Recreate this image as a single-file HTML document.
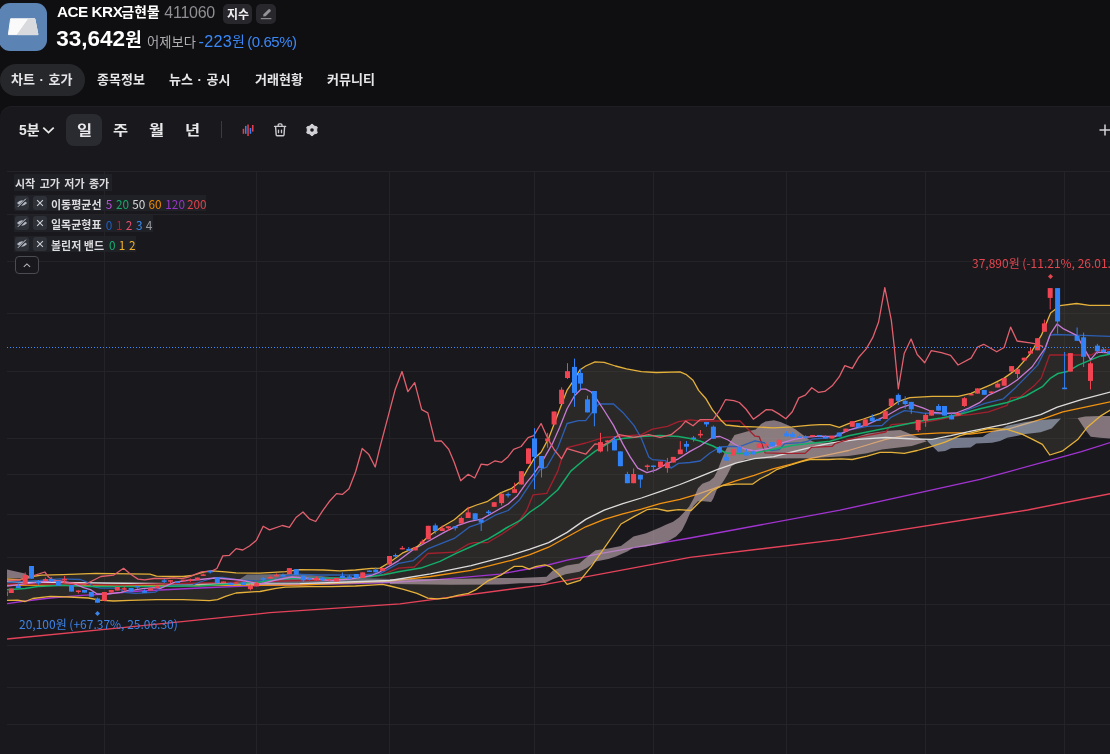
<!DOCTYPE html>
<html><head><meta charset="utf-8">
<style>
*{margin:0;padding:0;box-sizing:border-box}
html,body{width:1110px;height:754px;overflow:hidden;background:#0f0f11;color:#fff;font-family:"Liberation Sans","Noto Sans CJK KR",sans-serif}
.abs{position:absolute}
#logo{left:-1px;top:3px;width:48px;height:48px;border-radius:11px;background:#5b84b5;overflow:hidden}
.hd{white-space:nowrap;line-height:1}
.kr{font-family:"Noto Sans CJK KR",sans-serif}
.badge{top:4px;height:20px;border-radius:5px;background:#28282c}
#price{left:57px;top:26px;font-size:20px;font-weight:700;white-space:nowrap;letter-spacing:-0.3px}
#cmp{left:148px;top:32px;font-size:13px;color:#a8a8ae;white-space:nowrap}
#chg{left:199px;top:31px;font-size:14px;color:#3a86f5;white-space:nowrap}
.tab{top:64px;height:32px;line-height:32px;font-size:13px;font-weight:700;color:#e6e6e9;white-space:nowrap}
#panel{left:0;top:106px;width:1120px;height:660px;background:#19181d;border-radius:12px 0 0 0;box-shadow:inset 0 1px 0 #1f1e23}
.tb{top:114px;width:36px;height:32px;line-height:32px;text-align:center;font-size:14px;font-weight:700;color:#e8e8ea;border-radius:8px}
.tb span{display:inline-block;transform:scaleX(1.17)}
.lg{font-family:"Noto Sans CJK KR",sans-serif;font-size:11px;font-weight:700;color:#dcdcdf;white-space:nowrap}
.lgbox{background:rgba(34,35,40,0.85)}
.ib{width:13px;height:13px;border-radius:3px;background:#2e2f36}
.num{font-weight:400;font-size:11.8px}
.lbl{font-family:"Noto Sans CJK KR",sans-serif;font-size:12px;white-space:nowrap;line-height:16px}
</style></head><body>
<!-- header -->
<div id="logo" class="abs">
<svg width="48" height="48" viewBox="0 0 48 48"><polygon points="11.6,15.8 35.8,15.8 38.9,31.6 9.4,31.6" fill="#fafafa" stroke="#fafafa" stroke-width="1" stroke-linejoin="round"/><polygon points="29.6,15.8 35.8,15.8 38.9,31.6 18.3,31.6" fill="#d9dade" stroke="#d9dade" stroke-width="1" stroke-linejoin="round"/></svg>
</div>
<div class="abs hd" style="left:57px;top:4px;font-size:15.3px;font-weight:700;letter-spacing:-0.5px">ACE KRX</div>
<div class="abs hd kr" style="left:121.5px;top:5px;font-size:13.8px;font-weight:700">금현물</div>
<div class="abs hd" style="left:164.3px;top:5px;font-size:16px;letter-spacing:-0.25px;color:#8e8e93">411060</div>
<div class="abs badge" style="left:223px;width:29px"></div>
<div class="abs hd kr" style="left:227px;top:7.5px;font-size:12px;font-weight:700;color:#f0f0f2">지수</div>
<div class="abs badge" style="left:256px;width:20px"></div>
<svg class="abs" style="left:256px;top:4px" width="20" height="20" viewBox="0 0 20 20"><path d="M7.2 12.6 L7.5 10.2 L12.3 5.4 Q13.2 4.6 14.1 5.4 L14.4 5.7 Q15.2 6.6 14.4 7.5 L9.6 12.3 Z" fill="#939398"/><rect x="4.8" y="14.1" width="10.6" height="1.1" fill="#939398"/></svg>
<div class="abs hd" style="left:56.3px;top:27.7px;font-size:22.5px;font-weight:700">33,642</div>
<div class="abs hd kr" style="left:125.3px;top:28.5px;font-size:18px;font-weight:700">원</div>
<div class="abs hd kr" style="left:147px;top:34.5px;font-size:13.3px;color:#aeaeb3">어제보다</div>
<div class="abs hd" style="left:198.5px;top:33px;font-size:16.2px;letter-spacing:0.3px;color:#3a88f7">-223</div>
<div class="abs hd kr" style="left:232.2px;top:34px;font-size:13.6px;color:#3a88f7">원</div>
<div class="abs hd" style="left:247.3px;top:33.5px;font-size:15px;letter-spacing:-0.45px;color:#3a88f7">(0.65%)</div>
<!-- tabs -->
<div class="abs" style="left:0;top:64px;width:85px;height:32px;border-radius:16px;background:#26272b"></div>
<div class="abs tab" style="left:11px;word-spacing:1px">차트 · 호가</div>
<div class="abs tab" style="left:97px">종목정보</div>
<div class="abs tab" style="left:169px;word-spacing:1px">뉴스 · 공시</div>
<div class="abs tab" style="left:255px">거래현황</div>
<div class="abs tab" style="left:327px">커뮤니티</div>
<!-- panel -->
<div id="panel" class="abs"></div>
<div class="abs" style="left:19px;top:114px;height:32px;line-height:32px;font-size:14px;font-weight:700;color:#e8e8ea">5분</div>
<svg class="abs" style="left:42px;top:125px" width="13" height="10" viewBox="0 0 13 10"><path d="M1.3 2.6 L6.5 7.6 L11.7 2.6" fill="none" stroke="#e8e8ea" stroke-width="1.8"/></svg>
<div class="abs tb" style="left:66px;background:#2a2b31"><span>일</span></div>
<div class="abs tb" style="left:102px"><span>주</span></div>
<div class="abs tb" style="left:138px"><span>월</span></div>
<div class="abs tb" style="left:174px"><span>년</span></div>
<div class="abs" style="left:221px;top:121px;width:1px;height:17px;background:#3a3a40"></div>
<svg class="abs" style="left:240px;top:122px" width="16" height="16" viewBox="0 0 16 16">
<rect x="2.7" y="6.8" width="1.5" height="5" fill="#e5404f"/>
<rect x="5" y="3.9" width="1.5" height="7.9" fill="#2f86f0"/>
<rect x="7.3" y="2.5" width="1.5" height="11.5" fill="#e5404f"/>
<rect x="9.7" y="6" width="1.5" height="5.8" fill="#2f86f0"/>
<rect x="12" y="3" width="1.5" height="6.6" fill="#e5404f"/>
</svg>
<svg class="abs" style="left:272px;top:122px" width="16" height="16" viewBox="0 0 16 16" fill="none" stroke="#cbcbcf" stroke-linecap="round" stroke-linejoin="round">
<path d="M6.2 4.2 V3 Q6.2 1.9 7.3 1.9 H8.9 Q10 1.9 10 3 V4.2" stroke-width="1.3"/>
<path d="M2.6 4.4 H13.6" stroke-width="1.4"/>
<path d="M3.6 4.8 L4.2 13 Q4.3 13.7 5 13.7 H11.2 Q11.9 13.7 12 13 L12.6 4.8" stroke-width="1.4"/>
<path d="M6.5 8.1 V10.7 M9.5 8.1 V10.7" stroke-width="1.3"/>
</svg>
<svg class="abs" style="left:304px;top:122px" width="16" height="16" viewBox="0 0 16 16">
<polygon points="8.00,2.00 10.30,4.02 13.20,5.00 12.60,8.00 13.20,11.00 10.30,11.98 8.00,14.00 5.70,11.98 2.80,11.00 3.40,8.00 2.80,5.00 5.70,4.02" fill="#d2d2d6" stroke="#d2d2d6" stroke-width="1" stroke-linejoin="round"/>
<circle cx="8" cy="8" r="1.8" fill="#19181d"/>
</svg>
<svg class="abs" style="left:1098px;top:123px" width="14" height="14" viewBox="0 0 14 14"><path d="M1.5 7 H12.5 M7 1.5 V12.5" stroke="#d4d4d8" stroke-width="1.5"/></svg>
<!-- chart -->
<svg class="abs" style="left:0;top:0" width="1110" height="754" viewBox="0 0 1110 754" id="chart">
<rect x="104" y="171" width="1" height="583" fill="#232328"/>
<rect x="256" y="171" width="1" height="583" fill="#232328"/>
<rect x="389" y="171" width="1" height="583" fill="#232328"/>
<rect x="534" y="171" width="1" height="583" fill="#232328"/>
<rect x="653" y="171" width="1" height="583" fill="#232328"/>
<rect x="786" y="171" width="1" height="583" fill="#232328"/>
<rect x="925" y="171" width="1" height="583" fill="#232328"/>
<rect x="1064" y="171" width="1" height="583" fill="#232328"/>
<rect x="7" y="171" width="1103" height="1" fill="#232328"/>
<rect x="7" y="214" width="1103" height="1" fill="#232328"/>
<rect x="7" y="261" width="1103" height="1" fill="#232328"/>
<rect x="7" y="313" width="1103" height="1" fill="#232328"/>
<rect x="7" y="371" width="1103" height="1" fill="#232328"/>
<rect x="7" y="438" width="1103" height="1" fill="#232328"/>
<rect x="7" y="474" width="1103" height="1" fill="#232328"/>
<rect x="7" y="514" width="1103" height="1" fill="#232328"/>
<rect x="7" y="557" width="1103" height="1" fill="#232328"/>
<rect x="7" y="604" width="1103" height="1" fill="#232328"/>
<rect x="7" y="645" width="1103" height="1" fill="#232328"/>
<rect x="7" y="687" width="1103" height="1" fill="#232328"/>
<rect x="7" y="724" width="1103" height="1" fill="#232328"/>
<defs><clipPath id="ca"><rect x="7" y="172" width="1103" height="582"/></clipPath></defs>
<g clip-path="url(#ca)">
<polygon points="7.0,579.0 20.0,579.6 29.0,577.0 41.6,575.2 63.0,574.6 95.8,573.3 130.0,573.8 149.9,574.2 156.5,576.1 169.8,576.5 183.0,576.5 192.3,575.5 204.3,571.8 212.2,570.8 225.5,571.8 236.0,572.9 260.0,573.2 285.5,571.6 299.8,569.7 323.7,570.0 339.6,570.8 355.5,570.0 371.4,568.4 380.0,568.1 389.3,562.5 402.3,553.2 417.1,546.7 428.3,536.5 441.3,527.2 454.2,519.8 467.2,508.7 476.5,505.0 487.7,501.3 500.6,492.9 511.8,488.3 521.1,480.8 528.5,467.8 534.1,458.6 541.1,452.3 548.6,438.4 557.8,414.2 567.1,390.1 572.7,381.8 580.1,369.7 585.7,366.0 595.0,361.9 604.2,362.3 615.4,366.0 626.5,368.8 641.4,371.6 656.2,372.5 680.0,371.9 686.5,374.7 693.0,380.2 698.6,390.4 706.0,398.8 712.5,409.9 720.8,420.0 726.0,425.0 740.0,426.5 755.0,426.9 773.6,427.8 792.1,426.9 810.7,425.1 820.0,424.6 830.0,424.6 839.3,427.3 848.6,423.6 863.4,419.0 880.1,413.4 889.4,407.8 898.7,401.3 909.8,397.6 932.1,396.3 958.1,396.3 971.1,393.4 980.0,389.3 991.1,384.6 1004.1,378.1 1017.1,368.9 1030.1,354.0 1041.3,335.4 1050.6,313.1 1059.9,305.7 1076.6,303.5 1089.6,305.3 1112.0,305.3 1112.0,409.0 1100.0,416.4 1087.0,427.6 1077.7,439.6 1062.8,450.8 1049.8,455.0 1042.4,444.3 1033.1,439.6 1022.0,434.1 1007.1,429.4 988.6,428.5 970.0,433.1 960.0,435.7 945.1,442.2 930.2,446.8 917.3,450.5 904.3,453.3 891.3,452.4 880.1,452.4 867.1,456.1 852.3,459.5 841.1,458.9 828.5,459.5 809.9,459.5 800.7,461.9 787.7,466.0 776.5,469.7 769.1,474.3 759.8,479.0 752.4,484.2 735.7,484.2 722.7,485.5 711.6,491.0 700.4,501.3 691.1,510.5 678.5,509.7 667.4,511.0 656.2,508.6 646.9,509.7 634.0,516.6 621.0,524.0 604.2,548.2 591.3,566.7 580.1,580.3 567.1,584.4 557.8,573.2 550.4,566.7 544.8,564.9 535.6,566.7 529.2,569.1 522.4,566.4 514.3,566.4 508.9,569.7 500.8,575.1 487.3,581.2 476.5,589.3 468.4,593.4 457.6,595.4 446.8,598.1 437.3,598.8 427.8,598.1 417.0,593.4 403.5,589.3 390.0,586.0 382.5,584.4 371.4,585.1 355.5,586.0 331.6,586.7 307.7,586.7 285.5,587.2 276.0,588.3 260.0,591.5 256.0,591.7 236.0,593.0 225.5,596.4 217.5,599.7 209.6,600.7 183.0,599.7 156.5,599.7 130.0,600.3 113.5,601.0 99.6,600.2 88.3,598.0 69.4,597.0 50.4,596.4 32.8,598.5 25.2,601.5 17.6,600.2 7.0,600.4" fill="#625a47" fill-opacity="0.25"/>
<polyline points="7.0,639.0 130.0,626.9 270.0,612.7 400.0,603.8 540.0,585.3 690.0,557.4 840.0,539.3 1027.6,510.0 1112.0,493.3" fill="none" stroke="#e6435a" stroke-width="1.35" stroke-linejoin="round" />
<polyline points="7.0,603.6 25.2,601.0 50.0,598.0 82.0,595.4 100.9,594.4 140.0,591.0 200.0,588.0 270.0,585.0 330.0,584.0 390.0,582.5 440.0,579.3 500.0,574.1 525.1,569.5 540.0,567.0 567.1,560.2 604.2,552.8 641.4,546.3 690.0,538.0 840.0,510.2 980.0,479.3 1007.1,472.1 1044.3,461.9 1081.4,451.7 1112.0,442.0" fill="none" stroke="#a134d0" stroke-width="1.3" stroke-linejoin="round" />
<polyline points="7.0,585.0 100.0,585.5 200.0,585.5 300.0,585.0 390.0,581.2 430.5,576.5 471.1,570.4 511.6,560.3 530.0,554.7 548.6,547.2 567.1,537.0 585.7,526.8 604.2,519.4 622.8,513.8 641.4,509.2 659.9,503.6 680.0,499.4 698.6,493.8 717.1,487.3 735.7,480.8 754.2,475.3 772.8,468.8 791.4,464.1 809.9,458.6 835.0,453.4 848.6,450.5 867.1,445.0 885.7,439.4 904.3,435.7 922.8,433.8 941.4,432.9 960.0,432.9 970.0,434.1 1007.1,429.4 1044.3,418.3 1062.8,411.8 1112.0,401.4" fill="none" stroke="#f39312" stroke-width="1.3" stroke-linejoin="round" />
<polygon points="7.0,569.4 23.8,573.3 30.3,576.6 28.8,578.7 7.0,578.0" fill="#c8b2b9" fill-opacity="0.6"/>
<polygon points="236.0,582.5 240.0,579.0 247.0,574.6 270.0,574.2 300.0,573.8 330.0,577.0 390.0,579.0 390.0,583.0 330.0,584.0 300.0,583.5 260.0,583.0 236.0,582.5" fill="#b0bdd6" fill-opacity="0.45"/>
<polygon points="390.0,579.0 450.0,579.0 500.0,578.0 520.0,578.0 546.5,576.8 552.8,570.5 566.7,565.4 579.3,563.5 590.6,554.1 595.7,550.3 608.3,548.4 620.9,545.9 633.5,536.4 646.1,533.2 660.0,527.6 665.8,524.7 673.1,521.8 679.0,517.4 684.8,511.5 689.2,506.4 693.6,498.4 698.0,488.2 702.3,483.8 709.6,480.9 714.0,477.2 717.7,469.9 721.3,460.4 725.0,451.7 728.6,444.4 731.5,440.0 734.5,435.0 747.0,431.6 755.7,429.5 761.1,424.1 765.4,421.4 774.0,420.3 780.5,421.9 789.2,425.7 795.7,429.5 800.0,432.7 804.3,436.0 808.6,439.2 813.0,441.4 817.3,442.4 830.0,443.0 848.6,439.4 867.1,433.8 885.7,431.1 900.5,430.1 908.0,432.9 922.8,439.4 927.0,441.3 927.0,441.3 911.7,445.9 896.8,447.8 882.0,449.6 867.1,453.3 848.6,456.1 830.0,457.0 809.9,458.3 772.8,458.4 754.2,458.6 745.0,459.5 740.0,461.9 735.9,463.4 731.5,466.3 727.2,475.0 722.8,482.3 716.9,489.6 713.3,498.4 711.1,502.0 703.8,501.3 698.0,501.3 693.6,505.7 690.7,511.5 686.3,521.8 681.9,530.5 676.1,536.4 668.8,540.7 660.0,543.5 646.1,546.5 633.5,547.8 627.2,551.5 615.9,556.6 608.3,559.1 595.7,561.6 586.8,568.0 579.3,571.7 565.4,574.3 552.8,579.3 545.2,583.1 520.0,583.3 500.0,584.5 450.0,584.8 390.0,584.0" fill="#c8b2b9" fill-opacity="0.6"/>
<polygon points="927.0,440.3 934.4,439.2 948.8,438.1 970.5,437.4 982.7,437.0 986.3,434.5 992.1,431.6 1000.0,429.5 1007.1,425.7 1025.7,422.0 1044.3,419.8 1061.0,418.6 1061.0,418.6 1051.7,428.5 1040.6,432.2 1025.7,434.1 1016.4,435.9 1007.1,437.8 1000.0,441.0 992.1,442.8 976.2,443.5 970.5,447.5 951.0,448.2 945.2,451.1 938.0,451.8 927.9,441.7" fill="#b0bdd6" fill-opacity="0.6"/>
<polygon points="1062.8,418.3 1077.7,417.9 1085.1,416.4 1100.0,416.0 1112.0,416.0 1112.0,438.7 1100.0,437.8 1090.7,436.8 1085.1,429.4 1077.7,418.3" fill="#c8b2b9" fill-opacity="0.6"/>
<polyline points="7.0,582.0 100.0,583.0 200.0,584.0 300.0,583.6 390.0,580.5 430.5,573.8 471.1,565.7 511.6,554.9 530.0,549.1 548.6,542.6 567.1,532.4 585.7,519.4 604.2,510.1 622.8,503.6 641.4,498.0 659.9,491.6 680.0,484.5 698.6,477.1 717.1,469.7 735.7,463.2 754.2,458.6 773.6,456.6 792.1,452.0 810.7,447.3 830.0,443.1 857.8,439.4 885.7,437.5 913.5,439.0 932.1,439.4 950.7,435.7 970.0,431.3 1007.1,423.8 1040.6,414.6 1057.3,407.1 1081.4,399.7 1112.0,391.6" fill="none" stroke="#dcdcdc" stroke-width="1.3" stroke-linejoin="round" />
<polyline points="7.0,584.0 60.0,584.0 120.0,585.0 200.0,583.0 260.0,581.5 330.0,580.0 380.0,575.5 398.6,568.1 414.3,567.0 427.8,553.5 454.9,552.2 468.4,544.1 473.8,542.7 487.3,542.7 502.5,533.7 517.4,523.5 526.6,510.5 533.1,494.8 546.7,493.4 557.8,471.1 561.6,458.8 567.1,447.7 585.7,443.0 604.2,437.4 619.1,436.5 641.4,434.7 652.5,429.1 667.4,426.3 678.5,421.7 690.0,419.8 700.0,421.0 712.0,421.0 725.0,421.0 740.0,421.0 755.0,436.2 759.2,436.7 765.2,452.9 782.8,453.4 805.1,453.4 811.6,447.3 832.0,446.4 835.0,443.6 848.6,439.4 867.1,435.7 885.7,432.0 891.3,424.6 904.3,423.6 922.8,422.7 941.4,419.0 960.0,415.3 970.0,414.6 988.6,411.8 1007.1,405.3 1010.8,397.9 1020.1,396.9 1035.0,384.9 1041.3,378.1 1049.6,355.0 1091.4,355.0 1098.9,350.3 1112.0,349.4" fill="none" stroke="#a3202e" stroke-width="1.3" stroke-linejoin="round" />
<polyline points="7.0,582.5 40.0,580.5 60.0,578.8 80.3,579.5 87.0,582.2 90.4,584.5 93.8,586.9 100.5,588.2 114.0,588.2 120.8,589.6 124.2,592.3 135.0,593.3 145.8,592.8 155.2,592.2 158.4,590.3 161.5,587.1 167.8,585.9 180.4,585.2 193.0,584.9 200.0,582.0 213.5,578.0 222.5,577.5 231.5,578.9 240.5,580.2 258.6,581.1 267.6,580.2 276.6,579.3 285.6,575.7 300.0,574.4 320.0,575.0 360.0,575.0 380.0,573.6 398.6,563.4 413.4,560.6 428.3,548.6 454.2,538.4 469.1,527.2 482.1,522.6 495.1,515.2 508.1,510.5 519.2,500.3 528.5,486.4 540.0,469.7 546.7,467.1 557.8,447.7 567.1,423.5 578.3,420.7 585.7,420.7 598.7,404.0 613.5,404.0 622.8,412.4 633.9,425.4 641.4,438.4 648.8,456.9 652.5,459.7 665.5,460.6 671.1,468.1 678.5,463.4 690.0,462.5 700.0,461.0 710.0,453.0 720.0,447.0 728.0,446.5 740.0,446.5 755.0,440.8 764.3,442.7 770.8,450.6 779.1,449.7 784.7,443.6 801.4,442.7 807.0,441.3 812.5,439.0 830.0,437.5 848.6,430.1 867.1,426.4 882.0,425.5 891.3,417.1 904.3,410.6 913.5,411.6 922.8,413.0 941.4,413.8 960.0,413.4 970.0,409.0 984.9,403.4 1003.4,398.8 1014.6,388.6 1025.7,377.4 1037.6,365.1 1045.0,350.3 1049.6,335.4 1054.3,334.5 1082.1,335.4 1112.0,336.4" fill="none" stroke="#2d5fb4" stroke-width="1.3" stroke-linejoin="round" />
<polyline points="7.0,589.7 25.0,588.5 37.8,586.6 63.0,585.3 88.0,586.6 140.0,586.6 200.0,586.0 260.0,582.0 276.0,579.6 291.8,578.3 355.5,578.0 371.4,576.4 384.0,574.8 398.6,571.8 420.8,568.1 440.0,561.4 456.0,553.4 472.0,546.3 488.0,539.1 500.0,532.0 506.2,528.0 521.1,519.8 530.0,512.0 541.1,504.5 557.8,489.7 570.8,471.1 583.8,460.0 595.0,451.4 613.5,440.2 622.8,438.4 641.4,436.5 659.9,435.6 678.5,436.5 690.0,438.4 700.0,441.0 713.0,446.0 726.0,453.0 740.0,453.5 755.0,452.9 773.6,449.2 792.1,445.5 810.7,443.2 830.0,441.3 848.6,435.7 867.1,432.0 885.7,428.3 904.3,424.6 922.8,420.8 941.4,418.1 960.0,414.3 980.0,408.8 1007.1,402.5 1025.7,396.0 1042.4,386.7 1050.6,378.1 1058.0,373.5 1067.3,371.6 1078.4,365.1 1091.4,359.6 1100.7,355.9 1112.0,353.8" fill="none" stroke="#14ad6a" stroke-width="1.5" stroke-linejoin="round" />
<polyline points="7.0,586.0 29.0,583.4 40.0,582.0 60.0,580.8 73.5,583.5 83.6,587.6 90.4,589.6 97.2,594.0 107.3,594.0 120.8,592.3 127.6,590.6 135.0,589.9 142.6,588.7 155.2,587.7 160.3,588.4 174.1,582.4 186.7,580.5 200.0,579.5 215.0,578.0 240.0,580.0 260.0,584.0 276.0,580.0 291.8,577.0 310.0,578.5 330.0,580.5 350.0,579.0 371.4,575.5 380.0,571.8 398.6,560.6 413.4,549.5 428.3,541.2 445.0,531.9 458.0,525.4 469.1,521.7 482.1,518.9 495.1,511.5 508.1,504.0 517.4,495.7 526.6,482.7 534.1,473.4 541.1,463.4 552.3,443.9 559.7,427.2 567.1,408.7 574.5,395.7 581.0,389.2 585.7,389.2 591.3,392.0 596.8,399.4 604.2,410.5 613.5,425.4 622.8,443.9 630.2,456.9 637.7,468.1 646.9,472.7 656.2,469.9 667.4,463.4 678.5,458.8 690.0,451.4 700.0,446.0 713.0,437.0 720.0,436.5 728.0,440.0 735.0,444.5 745.0,449.0 755.0,451.0 768.9,448.3 782.8,442.7 794.0,439.4 807.0,437.1 820.0,436.2 835.0,436.7 848.6,430.1 867.1,424.6 885.7,416.2 900.5,407.8 911.7,404.1 922.8,407.8 934.0,412.5 945.1,413.4 956.2,413.0 969.2,407.8 980.0,402.3 988.6,395.1 1007.1,386.7 1017.1,380.0 1032.0,367.0 1045.0,348.4 1050.6,333.6 1057.1,323.9 1063.6,328.9 1076.6,335.4 1083.1,346.6 1090.5,359.6 1097.0,352.1 1112.0,353.1" fill="none" stroke="#c77ad6" stroke-width="1.3" stroke-linejoin="round" />
<polyline points="7.0,579.0 20.0,579.6 29.0,577.0 41.6,575.2 63.0,574.6 95.8,573.3 130.0,573.8 149.9,574.2 156.5,576.1 169.8,576.5 183.0,576.5 192.3,575.5 204.3,571.8 212.2,570.8 225.5,571.8 236.0,572.9 260.0,573.2 285.5,571.6 299.8,569.7 323.7,570.0 339.6,570.8 355.5,570.0 371.4,568.4 380.0,568.1 389.3,562.5 402.3,553.2 417.1,546.7 428.3,536.5 441.3,527.2 454.2,519.8 467.2,508.7 476.5,505.0 487.7,501.3 500.6,492.9 511.8,488.3 521.1,480.8 528.5,467.8 534.1,458.6 541.1,452.3 548.6,438.4 557.8,414.2 567.1,390.1 572.7,381.8 580.1,369.7 585.7,366.0 595.0,361.9 604.2,362.3 615.4,366.0 626.5,368.8 641.4,371.6 656.2,372.5 680.0,371.9 686.5,374.7 693.0,380.2 698.6,390.4 706.0,398.8 712.5,409.9 720.8,420.0 726.0,425.0 740.0,426.5 755.0,426.9 773.6,427.8 792.1,426.9 810.7,425.1 820.0,424.6 830.0,424.6 839.3,427.3 848.6,423.6 863.4,419.0 880.1,413.4 889.4,407.8 898.7,401.3 909.8,397.6 932.1,396.3 958.1,396.3 971.1,393.4 980.0,389.3 991.1,384.6 1004.1,378.1 1017.1,368.9 1030.1,354.0 1041.3,335.4 1050.6,313.1 1059.9,305.7 1076.6,303.5 1089.6,305.3 1112.0,305.3" fill="none" stroke="#e5b13a" stroke-width="1.3" stroke-linejoin="round" />
<polyline points="7.0,600.4 17.6,600.2 25.2,601.5 32.8,598.5 50.4,596.4 69.4,597.0 88.3,598.0 99.6,600.2 113.5,601.0 130.0,600.3 156.5,599.7 183.0,599.7 209.6,600.7 217.5,599.7 225.5,596.4 236.0,593.0 256.0,591.7 260.0,591.5 276.0,588.3 285.5,587.2 307.7,586.7 331.6,586.7 355.5,586.0 371.4,585.1 382.5,584.4 390.0,586.0 403.5,589.3 417.0,593.4 427.8,598.1 437.3,598.8 446.8,598.1 457.6,595.4 468.4,593.4 476.5,589.3 487.3,581.2 500.8,575.1 508.9,569.7 514.3,566.4 522.4,566.4 529.2,569.1 535.6,566.7 544.8,564.9 550.4,566.7 557.8,573.2 567.1,584.4 580.1,580.3 591.3,566.7 604.2,548.2 621.0,524.0 634.0,516.6 646.9,509.7 656.2,508.6 667.4,511.0 678.5,509.7 691.1,510.5 700.4,501.3 711.6,491.0 722.7,485.5 735.7,484.2 752.4,484.2 759.8,479.0 769.1,474.3 776.5,469.7 787.7,466.0 800.7,461.9 809.9,459.5 828.5,459.5 841.1,458.9 852.3,459.5 867.1,456.1 880.1,452.4 891.3,452.4 904.3,453.3 917.3,450.5 930.2,446.8 945.1,442.2 960.0,435.7 970.0,433.1 988.6,428.5 1007.1,429.4 1022.0,434.1 1033.1,439.6 1042.4,444.3 1049.8,455.0 1062.8,450.8 1077.7,439.6 1087.0,427.6 1100.0,416.4 1112.0,409.0" fill="none" stroke="#e5b13a" stroke-width="1.3" stroke-linejoin="round" />
<polyline points="7.0,580.3 20.0,580.0 35.3,575.2 44.8,572.0 48.5,577.0 53.0,580.0 65.6,582.8 85.8,584.0 100.9,576.5 113.5,575.2 123.6,568.3 130.0,573.8 134.0,576.5 138.0,579.1 144.6,579.8 153.9,578.5 167.0,578.5 173.8,577.8 181.7,578.7 188.4,577.1 196.3,573.8 201.6,571.8 212.2,570.8 216.9,568.5 222.8,555.9 229.5,555.3 236.1,548.6 242.7,550.0 249.5,546.0 256.4,540.3 263.2,526.3 269.5,529.9 282.3,525.5 289.4,527.4 296.0,517.5 303.0,512.0 309.3,518.8 315.7,521.5 322.4,511.1 329.1,501.8 336.5,493.6 342.3,494.4 349.0,488.8 355.6,471.8 362.2,448.5 368.9,454.6 375.2,467.0 380.0,447.1 388.0,416.9 395.1,389.8 402.0,371.5 407.9,391.7 414.7,382.6 421.7,409.7 427.8,412.9 434.9,441.2 441.3,440.9 448.7,449.3 454.2,462.3 460.7,480.8 468.2,474.3 474.7,478.0 481.2,464.1 487.7,465.0 495.1,460.8 501.6,462.3 508.1,456.7 513.6,449.3 521.1,446.5 528.1,437.6 533.7,435.7 541.1,423.5 548.6,440.2 554.1,449.5 561.6,458.8 567.1,448.6 576.4,451.4 585.7,454.2 595.0,443.9 604.2,444.9 619.1,434.7 633.9,437.4 648.8,434.7 659.9,437.4 671.1,434.7 680.0,427.6 685.6,421.1 693.0,425.8 700.0,419.7 713.4,419.3 719.9,410.0 725.5,399.7 733.8,400.6 739.4,402.5 745.9,409.0 753.3,419.2 759.8,414.6 766.3,409.6 771.9,409.9 778.4,413.6 785.8,418.8 792.3,411.8 798.8,397.9 805.3,395.1 811.8,387.7 818.3,392.3 824.8,391.4 832.2,385.8 839.3,376.7 844.8,365.6 852.3,368.4 858.8,357.2 866.2,348.9 872.7,337.7 878.6,322.0 884.8,287.6 891.3,320.1 894.0,344.2 898.3,388.8 904.2,353.5 911.1,339.0 917.2,354.5 924.7,362.8 931.2,350.7 941.4,352.6 950.6,355.4 958.1,365.0 971.1,358.2 977.6,347.0 983.7,344.3 996.7,351.8 1004.1,347.5 1010.6,327.1 1017.1,341.0 1030.1,342.9 1035.7,343.8 1043.1,346.6" fill="none" stroke="#e2606e" stroke-width="1.3" stroke-linejoin="round" />
<rect x="4.9" y="591.5" width="1" height="4.5" fill="#f04452"/>
<rect x="2.9" y="591.5" width="5" height="4.5" fill="#f04452"/>
<rect x="10.8" y="588.5" width="1" height="4.5" fill="#f04452"/>
<rect x="8.8" y="588.5" width="5" height="4.5" fill="#f04452"/>
<rect x="17.8" y="583.4" width="1" height="4.6" fill="#3182f6"/>
<rect x="15.8" y="586.0" width="5" height="2.0" fill="#3182f6"/>
<rect x="24.7" y="572.5" width="1" height="12.5" fill="#f04452"/>
<rect x="22.7" y="575.0" width="5" height="9.0" fill="#f04452"/>
<rect x="31.0" y="566.0" width="1" height="12.7" fill="#3182f6"/>
<rect x="29.0" y="566.0" width="5" height="12.7" fill="#3182f6"/>
<rect x="38.0" y="580.0" width="1" height="4.7" fill="#3182f6"/>
<rect x="36.0" y="581.8" width="5" height="1.5" fill="#3182f6"/>
<rect x="44.9" y="577.5" width="1" height="3.5" fill="#f04452"/>
<rect x="42.9" y="579.0" width="5" height="2.0" fill="#f04452"/>
<rect x="51.2" y="577.0" width="1" height="5.0" fill="#3182f6"/>
<rect x="49.2" y="579.0" width="5" height="2.5" fill="#3182f6"/>
<rect x="57.8" y="581.0" width="1" height="4.7" fill="#3182f6"/>
<rect x="55.8" y="581.0" width="5" height="4.7" fill="#3182f6"/>
<rect x="64.1" y="576.0" width="1" height="7.0" fill="#f04452"/>
<rect x="62.1" y="578.9" width="5" height="1.5" fill="#f04452"/>
<rect x="71.0" y="585.0" width="1" height="6.6" fill="#3182f6"/>
<rect x="69.0" y="585.0" width="5" height="6.6" fill="#3182f6"/>
<rect x="77.9" y="590.5" width="1" height="3.0" fill="#f04452"/>
<rect x="75.9" y="590.5" width="5" height="1.5" fill="#f04452"/>
<rect x="84.0" y="590.0" width="1" height="2.6" fill="#3182f6"/>
<rect x="82.0" y="590.0" width="5" height="2.6" fill="#3182f6"/>
<rect x="90.9" y="592.0" width="1" height="4.7" fill="#3182f6"/>
<rect x="88.9" y="592.0" width="5" height="4.7" fill="#3182f6"/>
<rect x="97.0" y="597.5" width="1" height="5.2" fill="#3182f6"/>
<rect x="95.0" y="598.5" width="5" height="4.2" fill="#3182f6"/>
<rect x="103.9" y="592.0" width="1" height="8.7" fill="#f04452"/>
<rect x="101.9" y="592.0" width="5" height="8.7" fill="#f04452"/>
<rect x="110.8" y="590.0" width="1" height="2.6" fill="#f04452"/>
<rect x="108.8" y="590.0" width="5" height="2.6" fill="#f04452"/>
<rect x="116.8" y="587.0" width="1" height="3.6" fill="#f04452"/>
<rect x="114.8" y="587.0" width="5" height="3.6" fill="#f04452"/>
<rect x="123.7" y="586.5" width="1" height="5.0" fill="#f04452"/>
<rect x="121.7" y="588.2" width="5" height="1.5" fill="#f04452"/>
<rect x="130.6" y="588.0" width="1" height="3.6" fill="#3182f6"/>
<rect x="128.6" y="588.0" width="5" height="3.6" fill="#3182f6"/>
<rect x="136.8" y="585.0" width="1" height="4.0" fill="#3182f6"/>
<rect x="134.8" y="586.0" width="5" height="1.5" fill="#3182f6"/>
<rect x="144.1" y="589.4" width="1" height="3.4" fill="#3182f6"/>
<rect x="142.1" y="591.0" width="5" height="1.8" fill="#3182f6"/>
<rect x="150.1" y="588.4" width="1" height="2.0" fill="#f04452"/>
<rect x="148.1" y="588.4" width="5" height="2.0" fill="#f04452"/>
<rect x="156.7" y="585.8" width="1" height="2.2" fill="#f04452"/>
<rect x="154.7" y="585.8" width="5" height="2.2" fill="#f04452"/>
<rect x="163.7" y="579.0" width="1" height="4.0" fill="#3182f6"/>
<rect x="161.7" y="580.4" width="5" height="1.5" fill="#3182f6"/>
<rect x="170.0" y="580.2" width="1" height="3.3" fill="#f04452"/>
<rect x="168.0" y="580.2" width="5" height="1.5" fill="#f04452"/>
<rect x="177.0" y="581.4" width="1" height="1.5" fill="#3182f6"/>
<rect x="175.0" y="581.4" width="5" height="1.5" fill="#3182f6"/>
<rect x="183.2" y="579.7" width="1" height="1.5" fill="#f04452"/>
<rect x="181.2" y="579.7" width="5" height="1.5" fill="#f04452"/>
<rect x="189.8" y="578.5" width="1" height="3.5" fill="#f04452"/>
<rect x="187.8" y="579.5" width="5" height="1.5" fill="#f04452"/>
<rect x="196.9" y="577.5" width="1" height="2.7" fill="#f04452"/>
<rect x="194.9" y="577.5" width="5" height="2.7" fill="#f04452"/>
<rect x="202.7" y="573.5" width="1" height="2.4" fill="#f04452"/>
<rect x="200.7" y="574.4" width="5" height="1.5" fill="#f04452"/>
<rect x="209.7" y="570.0" width="1" height="3.5" fill="#3182f6"/>
<rect x="207.7" y="570.9" width="5" height="1.5" fill="#3182f6"/>
<rect x="216.8" y="577.5" width="1" height="5.6" fill="#3182f6"/>
<rect x="214.8" y="577.5" width="5" height="5.6" fill="#3182f6"/>
<rect x="223.0" y="581.5" width="1" height="1.5" fill="#f04452"/>
<rect x="221.0" y="581.5" width="5" height="1.5" fill="#f04452"/>
<rect x="230.3" y="582.7" width="1" height="2.4" fill="#3182f6"/>
<rect x="228.3" y="582.7" width="5" height="2.4" fill="#3182f6"/>
<rect x="235.6" y="581.5" width="1" height="2.4" fill="#f04452"/>
<rect x="233.6" y="582.4" width="5" height="1.5" fill="#f04452"/>
<rect x="242.9" y="580.5" width="1" height="4.6" fill="#3182f6"/>
<rect x="240.9" y="582.2" width="5" height="2.9" fill="#3182f6"/>
<rect x="249.9" y="584.5" width="1" height="5.9" fill="#f04452"/>
<rect x="247.9" y="585.8" width="5" height="3.3" fill="#f04452"/>
<rect x="256.2" y="582.0" width="1" height="4.4" fill="#f04452"/>
<rect x="254.2" y="583.1" width="5" height="3.3" fill="#f04452"/>
<rect x="262.7" y="577.0" width="1" height="4.0" fill="#3182f6"/>
<rect x="260.7" y="578.2" width="5" height="1.5" fill="#3182f6"/>
<rect x="269.8" y="575.5" width="1" height="3.0" fill="#f04452"/>
<rect x="267.8" y="577.0" width="5" height="1.5" fill="#f04452"/>
<rect x="275.9" y="573.5" width="1" height="2.9" fill="#f04452"/>
<rect x="273.9" y="574.9" width="5" height="1.5" fill="#f04452"/>
<rect x="282.5" y="573.5" width="1" height="4.0" fill="#3182f6"/>
<rect x="280.5" y="574.9" width="5" height="1.5" fill="#3182f6"/>
<rect x="288.9" y="568.1" width="1" height="5.9" fill="#f04452"/>
<rect x="286.9" y="568.1" width="5" height="5.9" fill="#f04452"/>
<rect x="295.8" y="569.2" width="1" height="5.6" fill="#3182f6"/>
<rect x="293.8" y="569.2" width="5" height="5.6" fill="#3182f6"/>
<rect x="302.8" y="575.6" width="1" height="6.4" fill="#3182f6"/>
<rect x="300.8" y="575.6" width="5" height="4.8" fill="#3182f6"/>
<rect x="308.8" y="577.0" width="1" height="3.5" fill="#3182f6"/>
<rect x="306.8" y="578.2" width="5" height="1.5" fill="#3182f6"/>
<rect x="316.0" y="576.5" width="1" height="3.9" fill="#f04452"/>
<rect x="314.0" y="578.0" width="5" height="2.4" fill="#f04452"/>
<rect x="322.0" y="577.0" width="1" height="4.0" fill="#3182f6"/>
<rect x="320.0" y="578.2" width="5" height="1.5" fill="#3182f6"/>
<rect x="328.7" y="578.9" width="1" height="2.6" fill="#f04452"/>
<rect x="326.7" y="578.9" width="5" height="1.5" fill="#f04452"/>
<rect x="335.9" y="578.0" width="1" height="3.5" fill="#f04452"/>
<rect x="333.9" y="578.0" width="5" height="3.5" fill="#f04452"/>
<rect x="341.9" y="572.5" width="1" height="5.5" fill="#3182f6"/>
<rect x="339.9" y="576.0" width="5" height="2.0" fill="#3182f6"/>
<rect x="348.9" y="575.0" width="1" height="4.0" fill="#3182f6"/>
<rect x="346.9" y="576.4" width="5" height="2.6" fill="#3182f6"/>
<rect x="355.8" y="574.0" width="1" height="4.0" fill="#3182f6"/>
<rect x="353.8" y="574.0" width="5" height="4.0" fill="#3182f6"/>
<rect x="362.2" y="572.4" width="1" height="5.6" fill="#f04452"/>
<rect x="360.2" y="572.4" width="5" height="5.6" fill="#f04452"/>
<rect x="369.0" y="570.5" width="1" height="1.5" fill="#3182f6"/>
<rect x="367.0" y="570.5" width="5" height="1.5" fill="#3182f6"/>
<rect x="375.2" y="567.5" width="1" height="4.9" fill="#3182f6"/>
<rect x="373.2" y="569.6" width="5" height="2.8" fill="#3182f6"/>
<rect x="382.0" y="568.0" width="1" height="2.8" fill="#f04452"/>
<rect x="380.0" y="568.0" width="5" height="2.8" fill="#f04452"/>
<rect x="389.0" y="556.0" width="1" height="8.5" fill="#f04452"/>
<rect x="387.0" y="556.0" width="5" height="8.5" fill="#f04452"/>
<rect x="395.0" y="553.5" width="1" height="4.5" fill="#3182f6"/>
<rect x="393.0" y="555.0" width="5" height="1.5" fill="#3182f6"/>
<rect x="401.8" y="546.0" width="1" height="3.4" fill="#f04452"/>
<rect x="399.8" y="547.9" width="5" height="1.5" fill="#f04452"/>
<rect x="408.3" y="547.0" width="1" height="4.0" fill="#3182f6"/>
<rect x="406.3" y="548.9" width="5" height="1.5" fill="#3182f6"/>
<rect x="414.8" y="547.3" width="1" height="3.1" fill="#f04452"/>
<rect x="412.8" y="547.3" width="5" height="3.1" fill="#f04452"/>
<rect x="421.8" y="539.5" width="1" height="4.5" fill="#f04452"/>
<rect x="419.8" y="541.5" width="5" height="1.5" fill="#f04452"/>
<rect x="427.8" y="525.8" width="1" height="13.5" fill="#f04452"/>
<rect x="425.8" y="525.8" width="5" height="13.5" fill="#f04452"/>
<rect x="434.8" y="523.5" width="1" height="10.2" fill="#3182f6"/>
<rect x="432.8" y="525.4" width="5" height="5.6" fill="#3182f6"/>
<rect x="441.7" y="525.5" width="1" height="5.5" fill="#f04452"/>
<rect x="439.7" y="528.2" width="5" height="2.8" fill="#f04452"/>
<rect x="447.8" y="526.3" width="1" height="4.7" fill="#f04452"/>
<rect x="445.8" y="526.3" width="5" height="1.9" fill="#f04452"/>
<rect x="454.7" y="526.3" width="1" height="4.2" fill="#3182f6"/>
<rect x="452.7" y="526.3" width="5" height="1.9" fill="#3182f6"/>
<rect x="460.8" y="516.5" width="1" height="7.0" fill="#f04452"/>
<rect x="458.8" y="518.0" width="5" height="5.5" fill="#f04452"/>
<rect x="467.7" y="506.8" width="1" height="11.2" fill="#f04452"/>
<rect x="465.7" y="512.4" width="5" height="5.6" fill="#f04452"/>
<rect x="474.7" y="513.3" width="1" height="6.5" fill="#3182f6"/>
<rect x="472.7" y="513.3" width="5" height="6.5" fill="#3182f6"/>
<rect x="480.7" y="519.4" width="1" height="11.6" fill="#3182f6"/>
<rect x="478.7" y="519.4" width="5" height="3.2" fill="#3182f6"/>
<rect x="488.1" y="510.0" width="1" height="5.0" fill="#3182f6"/>
<rect x="486.1" y="511.6" width="5" height="1.5" fill="#3182f6"/>
<rect x="493.7" y="502.2" width="1" height="4.6" fill="#f04452"/>
<rect x="491.7" y="502.2" width="5" height="4.6" fill="#f04452"/>
<rect x="501.1" y="492.5" width="1" height="13.0" fill="#f04452"/>
<rect x="499.1" y="493.8" width="5" height="9.3" fill="#f04452"/>
<rect x="507.6" y="492.5" width="1" height="5.0" fill="#3182f6"/>
<rect x="505.6" y="494.0" width="5" height="1.5" fill="#3182f6"/>
<rect x="514.1" y="482.7" width="1" height="10.2" fill="#f04452"/>
<rect x="512.1" y="489.2" width="5" height="3.7" fill="#f04452"/>
<rect x="520.9" y="471.2" width="1" height="13.3" fill="#f04452"/>
<rect x="518.9" y="471.2" width="5" height="13.3" fill="#f04452"/>
<rect x="528.0" y="448.4" width="1" height="15.4" fill="#f04452"/>
<rect x="526.0" y="448.4" width="5" height="15.4" fill="#f04452"/>
<rect x="534.0" y="428.2" width="1" height="61.0" fill="#3182f6"/>
<rect x="532.0" y="438.4" width="5" height="18.4" fill="#3182f6"/>
<rect x="541.0" y="456.0" width="1" height="21.4" fill="#3182f6"/>
<rect x="539.0" y="456.0" width="5" height="12.1" fill="#3182f6"/>
<rect x="547.1" y="432.8" width="1" height="14.9" fill="#f04452"/>
<rect x="545.1" y="438.4" width="5" height="2.8" fill="#f04452"/>
<rect x="553.6" y="411.5" width="1" height="13.0" fill="#f04452"/>
<rect x="551.6" y="411.5" width="5" height="13.0" fill="#f04452"/>
<rect x="561.1" y="387.3" width="1" height="16.7" fill="#f04452"/>
<rect x="559.1" y="389.7" width="5" height="14.3" fill="#f04452"/>
<rect x="567.0" y="363.2" width="1" height="15.8" fill="#f04452"/>
<rect x="565.0" y="371.2" width="5" height="6.8" fill="#f04452"/>
<rect x="574.0" y="358.6" width="1" height="48.2" fill="#3182f6"/>
<rect x="572.0" y="366.9" width="5" height="26.0" fill="#3182f6"/>
<rect x="580.0" y="368.8" width="1" height="20.4" fill="#3182f6"/>
<rect x="578.0" y="373.0" width="5" height="10.6" fill="#3182f6"/>
<rect x="587.0" y="395.7" width="1" height="16.7" fill="#3182f6"/>
<rect x="585.0" y="399.4" width="5" height="13.0" fill="#3182f6"/>
<rect x="593.9" y="391.0" width="1" height="35.3" fill="#3182f6"/>
<rect x="591.9" y="391.0" width="5" height="22.3" fill="#3182f6"/>
<rect x="600.0" y="432.8" width="1" height="19.5" fill="#f04452"/>
<rect x="598.0" y="442.1" width="5" height="9.3" fill="#f04452"/>
<rect x="607.1" y="440.2" width="1" height="11.2" fill="#f04452"/>
<rect x="605.1" y="440.5" width="5" height="1.5" fill="#f04452"/>
<rect x="614.0" y="436.5" width="1" height="13.9" fill="#3182f6"/>
<rect x="612.0" y="440.2" width="5" height="10.2" fill="#3182f6"/>
<rect x="619.9" y="451.4" width="1" height="14.8" fill="#3182f6"/>
<rect x="617.9" y="451.4" width="5" height="14.8" fill="#3182f6"/>
<rect x="626.9" y="471.8" width="1" height="11.4" fill="#3182f6"/>
<rect x="624.9" y="474.0" width="5" height="9.2" fill="#3182f6"/>
<rect x="633.1" y="468.4" width="1" height="14.8" fill="#f04452"/>
<rect x="631.1" y="474.0" width="5" height="9.2" fill="#f04452"/>
<rect x="639.9" y="474.8" width="1" height="13.0" fill="#3182f6"/>
<rect x="637.9" y="474.8" width="5" height="4.7" fill="#3182f6"/>
<rect x="646.8" y="464.5" width="1" height="6.0" fill="#f04452"/>
<rect x="644.8" y="465.5" width="5" height="1.5" fill="#f04452"/>
<rect x="652.9" y="465.5" width="1" height="7.2" fill="#3182f6"/>
<rect x="650.9" y="465.5" width="5" height="1.5" fill="#3182f6"/>
<rect x="660.0" y="461.6" width="1" height="5.5" fill="#f04452"/>
<rect x="658.0" y="461.6" width="5" height="5.5" fill="#f04452"/>
<rect x="666.9" y="457.9" width="1" height="14.8" fill="#f04452"/>
<rect x="664.9" y="462.5" width="5" height="5.6" fill="#f04452"/>
<rect x="672.8" y="456.9" width="1" height="5.6" fill="#f04452"/>
<rect x="670.8" y="456.9" width="5" height="5.6" fill="#f04452"/>
<rect x="679.8" y="441.2" width="1" height="13.0" fill="#f04452"/>
<rect x="677.8" y="449.5" width="5" height="4.7" fill="#f04452"/>
<rect x="686.0" y="441.1" width="1" height="10.7" fill="#3182f6"/>
<rect x="684.0" y="443.9" width="5" height="2.8" fill="#3182f6"/>
<rect x="693.0" y="436.0" width="1" height="5.6" fill="#3182f6"/>
<rect x="691.0" y="437.5" width="5" height="1.5" fill="#3182f6"/>
<rect x="699.9" y="430.0" width="1" height="7.8" fill="#f04452"/>
<rect x="697.9" y="433.9" width="5" height="1.5" fill="#f04452"/>
<rect x="706.0" y="422.0" width="1" height="4.7" fill="#3182f6"/>
<rect x="704.0" y="422.0" width="5" height="2.4" fill="#3182f6"/>
<rect x="712.9" y="425.5" width="1" height="13.3" fill="#3182f6"/>
<rect x="710.9" y="426.7" width="5" height="12.1" fill="#3182f6"/>
<rect x="718.9" y="446.2" width="1" height="7.4" fill="#3182f6"/>
<rect x="716.9" y="447.1" width="5" height="5.6" fill="#3182f6"/>
<rect x="725.9" y="454.1" width="1" height="6.5" fill="#3182f6"/>
<rect x="723.9" y="456.9" width="5" height="3.7" fill="#3182f6"/>
<rect x="733.0" y="449.0" width="1" height="6.5" fill="#f04452"/>
<rect x="731.0" y="449.0" width="5" height="6.5" fill="#f04452"/>
<rect x="738.9" y="445.3" width="1" height="10.2" fill="#3182f6"/>
<rect x="736.9" y="447.1" width="5" height="5.6" fill="#3182f6"/>
<rect x="745.9" y="449.0" width="1" height="6.5" fill="#3182f6"/>
<rect x="743.9" y="452.2" width="5" height="3.3" fill="#3182f6"/>
<rect x="752.8" y="450.4" width="1" height="4.1" fill="#3182f6"/>
<rect x="750.8" y="451.3" width="5" height="3.2" fill="#3182f6"/>
<rect x="758.7" y="443.6" width="1" height="4.2" fill="#f04452"/>
<rect x="756.7" y="443.6" width="5" height="4.2" fill="#f04452"/>
<rect x="765.6" y="442.2" width="1" height="5.6" fill="#f04452"/>
<rect x="763.6" y="444.1" width="5" height="1.5" fill="#f04452"/>
<rect x="771.9" y="442.2" width="1" height="4.2" fill="#3182f6"/>
<rect x="769.9" y="442.2" width="5" height="4.2" fill="#3182f6"/>
<rect x="778.8" y="438.9" width="1" height="6.6" fill="#f04452"/>
<rect x="776.8" y="439.9" width="5" height="5.6" fill="#f04452"/>
<rect x="786.1" y="431.1" width="1" height="5.6" fill="#3182f6"/>
<rect x="784.1" y="433.4" width="5" height="2.8" fill="#3182f6"/>
<rect x="792.1" y="432.0" width="1" height="5.1" fill="#3182f6"/>
<rect x="790.1" y="433.9" width="5" height="3.2" fill="#3182f6"/>
<rect x="799.0" y="434.3" width="1" height="3.7" fill="#3182f6"/>
<rect x="797.0" y="436.2" width="5" height="1.8" fill="#3182f6"/>
<rect x="805.1" y="435.3" width="1" height="3.6" fill="#3182f6"/>
<rect x="803.1" y="436.4" width="5" height="1.5" fill="#3182f6"/>
<rect x="812.0" y="435.1" width="1" height="1.5" fill="#f04452"/>
<rect x="810.0" y="435.1" width="5" height="1.5" fill="#f04452"/>
<rect x="819.0" y="435.0" width="1" height="1.5" fill="#3182f6"/>
<rect x="817.0" y="435.0" width="5" height="1.5" fill="#3182f6"/>
<rect x="825.0" y="435.3" width="1" height="3.2" fill="#3182f6"/>
<rect x="823.0" y="436.7" width="5" height="1.8" fill="#3182f6"/>
<rect x="831.5" y="435.7" width="1" height="2.8" fill="#f04452"/>
<rect x="829.5" y="435.7" width="5" height="2.8" fill="#f04452"/>
<rect x="838.8" y="432.5" width="1" height="4.1" fill="#3182f6"/>
<rect x="836.8" y="432.5" width="5" height="4.1" fill="#3182f6"/>
<rect x="845.3" y="428.6" width="1" height="3.0" fill="#f04452"/>
<rect x="843.3" y="428.6" width="5" height="3.0" fill="#f04452"/>
<rect x="851.8" y="421.2" width="1" height="5.6" fill="#f04452"/>
<rect x="849.8" y="421.2" width="5" height="5.6" fill="#f04452"/>
<rect x="857.7" y="423.1" width="1" height="4.2" fill="#3182f6"/>
<rect x="855.7" y="423.1" width="5" height="4.2" fill="#3182f6"/>
<rect x="864.8" y="419.4" width="1" height="6.6" fill="#f04452"/>
<rect x="862.8" y="419.4" width="5" height="6.6" fill="#f04452"/>
<rect x="871.8" y="414.3" width="1" height="8.0" fill="#3182f6"/>
<rect x="869.8" y="417.5" width="5" height="3.7" fill="#3182f6"/>
<rect x="877.8" y="419.2" width="1" height="1.5" fill="#3182f6"/>
<rect x="875.8" y="419.2" width="5" height="1.5" fill="#3182f6"/>
<rect x="884.8" y="411.2" width="1" height="7.8" fill="#f04452"/>
<rect x="882.8" y="411.2" width="5" height="7.8" fill="#f04452"/>
<rect x="890.8" y="398.6" width="1" height="7.4" fill="#f04452"/>
<rect x="888.8" y="398.6" width="5" height="7.4" fill="#f04452"/>
<rect x="897.8" y="393.4" width="1" height="11.6" fill="#3182f6"/>
<rect x="895.8" y="394.9" width="5" height="5.9" fill="#3182f6"/>
<rect x="904.7" y="396.3" width="1" height="12.5" fill="#3182f6"/>
<rect x="902.7" y="400.8" width="5" height="3.3" fill="#3182f6"/>
<rect x="910.8" y="401.9" width="1" height="11.9" fill="#3182f6"/>
<rect x="908.8" y="401.9" width="5" height="7.4" fill="#3182f6"/>
<rect x="917.7" y="419.9" width="1" height="12.1" fill="#f04452"/>
<rect x="915.7" y="419.9" width="5" height="10.2" fill="#f04452"/>
<rect x="925.1" y="413.0" width="1" height="13.8" fill="#f04452"/>
<rect x="923.1" y="414.9" width="5" height="5.9" fill="#f04452"/>
<rect x="931.0" y="410.1" width="1" height="5.5" fill="#f04452"/>
<rect x="929.0" y="410.1" width="5" height="5.5" fill="#f04452"/>
<rect x="938.1" y="404.1" width="1" height="6.5" fill="#3182f6"/>
<rect x="936.1" y="406.0" width="5" height="4.6" fill="#3182f6"/>
<rect x="944.0" y="406.0" width="1" height="9.6" fill="#3182f6"/>
<rect x="942.0" y="406.0" width="5" height="9.6" fill="#3182f6"/>
<rect x="951.1" y="412.5" width="1" height="6.9" fill="#3182f6"/>
<rect x="949.1" y="415.3" width="5" height="4.1" fill="#3182f6"/>
<rect x="957.6" y="413.0" width="1" height="2.6" fill="#f04452"/>
<rect x="955.6" y="413.0" width="5" height="2.6" fill="#f04452"/>
<rect x="963.9" y="397.1" width="1" height="9.8" fill="#f04452"/>
<rect x="961.9" y="398.2" width="5" height="7.8" fill="#f04452"/>
<rect x="970.6" y="393.9" width="1" height="1.5" fill="#f04452"/>
<rect x="968.6" y="393.9" width="5" height="1.5" fill="#f04452"/>
<rect x="977.0" y="388.4" width="1" height="5.2" fill="#f04452"/>
<rect x="975.0" y="388.4" width="5" height="5.2" fill="#f04452"/>
<rect x="983.8" y="390.0" width="1" height="4.8" fill="#3182f6"/>
<rect x="981.8" y="390.0" width="5" height="4.8" fill="#3182f6"/>
<rect x="990.9" y="391.5" width="1" height="1.5" fill="#f04452"/>
<rect x="988.9" y="391.5" width="5" height="1.5" fill="#f04452"/>
<rect x="997.2" y="382.0" width="1" height="5.5" fill="#f04452"/>
<rect x="995.2" y="383.7" width="5" height="3.8" fill="#f04452"/>
<rect x="1003.7" y="378.1" width="1" height="7.6" fill="#f04452"/>
<rect x="1001.7" y="378.1" width="5" height="7.6" fill="#f04452"/>
<rect x="1011.1" y="366.1" width="1" height="5.5" fill="#f04452"/>
<rect x="1009.1" y="366.1" width="5" height="5.5" fill="#f04452"/>
<rect x="1017.0" y="369.2" width="1" height="8.8" fill="#f04452"/>
<rect x="1015.0" y="369.2" width="5" height="4.8" fill="#f04452"/>
<rect x="1023.7" y="357.7" width="1" height="2.8" fill="#f04452"/>
<rect x="1021.7" y="357.7" width="5" height="2.8" fill="#f04452"/>
<rect x="1030.0" y="347.5" width="1" height="6.1" fill="#f04452"/>
<rect x="1028.0" y="351.2" width="5" height="2.4" fill="#f04452"/>
<rect x="1037.1" y="338.2" width="1" height="12.1" fill="#f04452"/>
<rect x="1035.1" y="338.2" width="5" height="12.1" fill="#f04452"/>
<rect x="1043.9" y="319.6" width="1" height="12.1" fill="#f04452"/>
<rect x="1041.9" y="323.4" width="5" height="8.3" fill="#f04452"/>
<rect x="1049.7" y="288.1" width="1" height="21.3" fill="#f04452"/>
<rect x="1047.7" y="288.1" width="5" height="9.8" fill="#f04452"/>
<rect x="1057.1" y="288.1" width="1" height="45.5" fill="#3182f6"/>
<rect x="1055.1" y="288.1" width="5" height="33.4" fill="#3182f6"/>
<rect x="1064.1" y="352.0" width="1" height="37.2" fill="#3182f6"/>
<rect x="1062.1" y="387.6" width="5" height="1.6" fill="#3182f6"/>
<rect x="1069.9" y="353.1" width="1" height="18.5" fill="#f04452"/>
<rect x="1067.9" y="353.1" width="5" height="18.5" fill="#f04452"/>
<rect x="1076.6" y="327.5" width="1" height="13.3" fill="#3182f6"/>
<rect x="1074.6" y="336.0" width="5" height="4.8" fill="#3182f6"/>
<rect x="1083.1" y="332.6" width="1" height="34.4" fill="#3182f6"/>
<rect x="1081.1" y="337.3" width="5" height="19.5" fill="#3182f6"/>
<rect x="1090.0" y="361.4" width="1" height="28.1" fill="#f04452"/>
<rect x="1088.0" y="363.3" width="5" height="17.6" fill="#f04452"/>
<rect x="1096.9" y="343.8" width="1" height="10.2" fill="#3182f6"/>
<rect x="1094.9" y="345.6" width="5" height="5.6" fill="#3182f6"/>
<rect x="1103.0" y="347.5" width="1" height="5.6" fill="#3182f6"/>
<rect x="1101.0" y="349.4" width="5" height="2.7" fill="#3182f6"/>
<rect x="1109.0" y="351.2" width="1" height="2.8" fill="#3182f6"/>
<rect x="1107.0" y="351.2" width="5" height="2.8" fill="#3182f6"/>
</g>
<line x1="7" y1="347.5" x2="1110" y2="347.5" stroke="#3a8bff" stroke-width="1" stroke-dasharray="1 2"/>
</svg>
<!-- legend -->
<svg width="0" height="0" style="position:absolute"><defs>
<g id="eye"><path d="M1.9 6.9 Q7 1.4 12.1 6.9 Q7 12.4 1.9 6.9 Z" fill="#b3b9c2"/><path d="M3.4 11 L11.2 3.1" stroke="#2f3139" stroke-width="2.2"/><path d="M3.1 10.6 L10.6 3" stroke="#c4c8ce" stroke-width="1" stroke-linecap="round"/></g>
<g id="xx"><path d="M4.1 4.2 L9.9 9.8 M9.9 4.2 L4.1 9.8" stroke="#cfd1d6" stroke-width="1.05"/></g>
</defs></svg>
<div class="abs lgbox" style="left:14px;top:174px;width:98px;height:17px"></div>
<div class="abs lg" style="left:15px;top:175px;line-height:17px;word-spacing:1.9px">시작 고가 저가 종가</div>
<div class="abs lgbox" style="left:14px;top:195px;width:192px;height:16px"></div>
<div class="abs lgbox" style="left:14px;top:215px;width:139px;height:17px"></div>
<div class="abs lgbox" style="left:14px;top:236px;width:122px;height:16px"></div>
<svg class="abs" style="left:15px;top:196px" width="14" height="14"><rect width="14" height="14" rx="3" fill="#2f3139"/><use href="#eye"/></svg>
<svg class="abs" style="left:33px;top:196px" width="14" height="14"><rect width="14" height="14" rx="3" fill="#2f3139"/><use href="#xx"/></svg>
<svg class="abs" style="left:15px;top:216px" width="14" height="14"><rect width="14" height="14" rx="3" fill="#2f3139"/><use href="#eye"/></svg>
<svg class="abs" style="left:33px;top:216px" width="14" height="14"><rect width="14" height="14" rx="3" fill="#2f3139"/><use href="#xx"/></svg>
<svg class="abs" style="left:15px;top:237px" width="14" height="14"><rect width="14" height="14" rx="3" fill="#2f3139"/><use href="#eye"/></svg>
<svg class="abs" style="left:33px;top:237px" width="14" height="14"><rect width="14" height="14" rx="3" fill="#2f3139"/><use href="#xx"/></svg>
<div class="abs lg" style="left:51px;top:196px;line-height:16px">이동평균선</div>
<div class="abs lg num" style="left:105.8px;top:196px;line-height:16px;color:#b553d6">5</div>
<div class="abs lg num" style="left:116px;top:196px;line-height:16px;color:#17a96b">20</div>
<div class="abs lg num" style="left:132.3px;top:196px;line-height:16px;color:#d6d6d8">50</div>
<div class="abs lg num" style="left:148.5px;top:196px;line-height:16px;color:#f08a00">60</div>
<div class="abs lg num" style="left:165.3px;top:196px;line-height:16px;color:#9836c6">120</div>
<div class="abs lg num" style="left:186.9px;top:196px;line-height:16px;color:#e0414c">200</div>
<div class="abs lg" style="left:51px;top:216px;line-height:17px">일목균형표</div>
<div class="abs lg num" style="left:105.8px;top:216px;line-height:17px;color:#1f5fc0">0</div>
<div class="abs lg num" style="left:116px;top:216px;line-height:17px;color:#b11c31">1</div>
<div class="abs lg num" style="left:125.8px;top:216px;line-height:17px;color:#e8506c">2</div>
<div class="abs lg num" style="left:136px;top:216px;line-height:17px;color:#3a8af2">3</div>
<div class="abs lg num" style="left:145.8px;top:216px;line-height:17px;color:#9a9ba0">4</div>
<div class="abs lg" style="left:51px;top:237px;line-height:16px">볼린저 밴드</div>
<div class="abs lg num" style="left:109px;top:237px;line-height:16px;color:#16ae6e">0</div>
<div class="abs lg num" style="left:118.8px;top:237px;line-height:16px;color:#f0b12a">1</div>
<div class="abs lg num" style="left:129px;top:237px;line-height:16px;color:#f0b12a">2</div>
<div class="abs" style="left:15px;top:256px;width:24px;height:18px;border:1px solid #4b4b52;border-radius:4px;background:#19181d"></div>
<svg class="abs" style="left:22px;top:262px" width="10" height="7"><path d="M1.8 4.8 L4.9 1.9 L8.1 4.8" fill="none" stroke="#b8b8be" stroke-width="1.1"/></svg>
<div class="abs lbl" style="left:19px;top:616px;color:#3d84e6">20,100원 (+67.37%, 25.06.30)</div>
<svg class="abs" style="left:94px;top:610px" width="7" height="7"><path d="M3.5 1 L6 3.5 L3.5 6 L1 3.5 Z" fill="#3d84e6"/></svg>
<div class="abs lbl" style="left:972px;top:255px;color:#e3464f">37,890원 (-11.21%, 26.01.29)</div>
<svg class="abs" style="left:1046.7px;top:272.5px" width="7" height="7"><path d="M3.5 1 L6 3.5 L3.5 6 L1 3.5 Z" fill="#e3464f"/></svg>
</body></html>
